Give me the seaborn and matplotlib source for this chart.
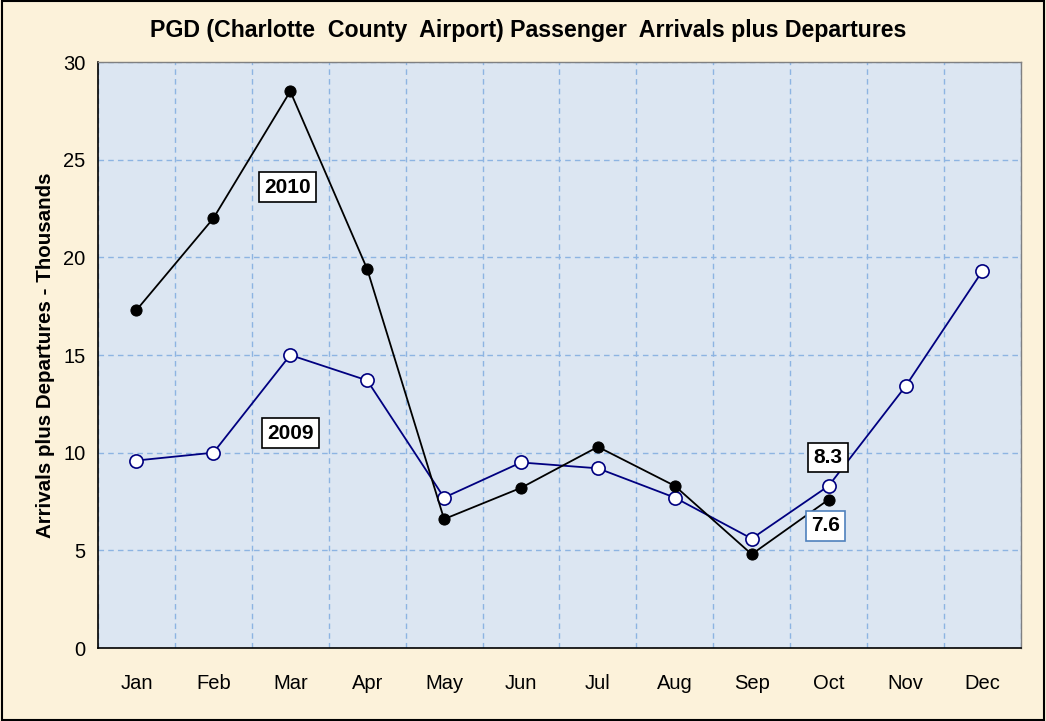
import matplotlib
matplotlib.use('Agg')
import matplotlib.pyplot as plt
import seaborn as sns
import pandas as pd

months = ['Jan', 'Feb', 'Mar', 'Apr', 'May', 'Jun', 'Jul', 'Aug', 'Sep', 'Oct', 'Nov', 'Dec']
pax_2009 = [9.6, 10.0, 15.0, 13.7, 7.7, 9.5, 9.2, 7.7, 5.6, 8.3, 13.4, 19.3]
pax_2010 = [17.3, 22.0, 28.5, 19.4, 6.6, 8.2, 10.3, 8.3, 4.8, 7.6]

sns.set_style('white')
plt.rcParams['font.family'] = ['Liberation Sans', 'DejaVu Sans']
plt.rcParams['text.color'] = 'black'
plt.rcParams['axes.labelcolor'] = 'black'
plt.rcParams['xtick.color'] = 'black'
plt.rcParams['ytick.color'] = 'black'

df09 = pd.DataFrame({'month': months, 'value': pax_2009})
df10 = pd.DataFrame({'month': months[:len(pax_2010)], 'value': pax_2010})

fig = plt.figure(figsize=(10.46, 7.21), dpi=100)
fig.patch.set_facecolor('#FCF2DA')
ax = fig.add_axes([0.0937, 0.1012, 0.8823, 0.8128])
ax.set_facecolor('#DCE6F2')

sns.lineplot(data=df09, x='month', y='value', ax=ax, color='#000080', lw=1.3,
             marker='o', markersize=9.5, markerfacecolor='white', markeredgecolor='#000080',
             markeredgewidth=1.2, sort=False)
sns.lineplot(data=df10, x='month', y='value', ax=ax, color='black', lw=1.3,
             marker='o', markersize=8, markerfacecolor='black', markeredgecolor='black',
             sort=False)

ax.set_xlim(-0.5, 11.5)
ax.set_ylim(0, 30)
ax.set_yticks(range(0, 31, 5))
ax.set_xticks(range(12))
ax.set_xticklabels(months)
ax.set_xticks([i + 0.5 for i in range(-1, 12)], minor=True)
ax.tick_params(axis='x', which='major', length=0, pad=19, labelsize=14.5)
ax.tick_params(axis='x', which='minor', length=5, width=1, color='black', direction='out')
ax.tick_params(axis='y', length=5, width=1, color='black', direction='out', labelsize=14.5, pad=4)
ax.grid(True, axis='y', which='major', linestyle=(0, (4, 3)), color='#8DB4E2', lw=1)
ax.grid(True, axis='x', which='minor', linestyle=(0, (4, 3)), color='#8DB4E2', lw=1)
ax.grid(False, axis='x', which='major')
ax.set_xlabel('')
ax.set_ylabel('Arrivals plus Departures - Thousands', fontsize=14.8, fontweight='bold', labelpad=6)
for s in ['top', 'right']:
    ax.spines[s].set_color('#808080')
    ax.spines[s].set_linewidth(1)
for s in ['left', 'bottom']:
    ax.spines[s].set_color('black')
    ax.spines[s].set_linewidth(1.2)

fig.text(0.505, 0.958, 'PGD (Charlotte  County  Airport) Passenger  Arrivals plus Departures',
         ha='center', va='center', fontsize=16.7, fontweight='bold')

box = dict(boxstyle='square,pad=0.25', facecolor='white', edgecolor='black', lw=1.2)
ax.text(1.97, 23.6, '2010', ha='center', va='center', fontsize=15, fontweight='bold', bbox=box)
ax.text(2.0, 11.0, '2009', ha='center', va='center', fontsize=15, fontweight='bold', bbox=box)
ax.text(8.99, 9.75, '8.3', ha='center', va='center', fontsize=15, fontweight='bold', bbox=box)
ax.text(8.96, 6.25, '7.6', ha='center', va='center', fontsize=15, fontweight='bold',
        bbox=dict(boxstyle='square,pad=0.25', facecolor='white', edgecolor='#4F81BD', lw=1.2))

fig.add_artist(plt.Rectangle((0.002, 0.002), 0.996, 0.996, transform=fig.transFigure,
                             fill=False, edgecolor='black', lw=1.5))

fig.savefig('out.png', dpi=100, facecolor=fig.get_facecolor())
